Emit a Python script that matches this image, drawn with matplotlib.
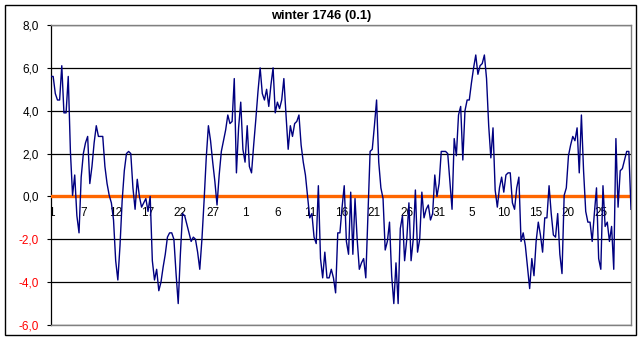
import matplotlib.pyplot as plt
from matplotlib.patches import Rectangle
import numpy as np

plt.rcParams['font.family'] = ['Liberation Sans', 'DejaVu Sans']

title = "winter 1746 (0.1)"

# three readings a day, December .. February
temps = [
    5.6, 5.6, 4.8, 4.5, 4.5, 6.1, 3.9, 3.9, 5.6, 2.1,
    0.05, 1.0, -0.9, -1.7, 0.9, 2.0, 2.5, 2.8, 0.6, 1.4,
    2.5, 3.3, 2.8, 2.8, 2.8, 1.4, 0.6, 0.05, -0.3, -1.1,
    -3.0, -3.9, -2.3, -0.2, 1.2, 2.0, 2.1, 2.0, 0.4, -0.6,
    0.8, 0.0, -0.5, -0.3, -0.1, -0.7, 0.0, -3.0, -3.9, -3.4,
    -4.4, -4.0, -3.3, -2.7, -1.9, -1.7, -1.7, -2.0, -3.6, -5.0,
    -2.7, -0.8, -0.9, -1.3, -1.7, -2.1, -1.9, -2.0, -2.6,
    -3.4, -2.0, -0.2, 1.8, 3.3, 2.6, 1.6, 0.7, -0.4, 1.0,
    2.1, 2.6, 3.1, 3.8, 3.4, 3.5, 5.5, 1.1, 3.2, 4.4,
    2.2, 1.6, 3.3, 1.4, 1.1, 2.4, 3.6, 4.9, 6.0, 4.8,
    4.5, 5.0, 4.2, 5.2, 6.0, 3.9, 4.4, 4.1, 4.5, 5.5,
    3.8, 2.2, 3.3, 2.8, 3.4, 3.5, 3.8, 2.4, 1.6, 1.0,
    0.0, -1.0, -0.8, -1.9, -2.2, 0.5, -2.9, -3.8, -2.6, -3.8,
    -3.8, -3.4, -3.8, -4.5, -1.7, -1.7, -0.5, 0.5, -2.1, -2.7,
    0.2, -2.7, -0.1, -2.0, -3.4, -3.1, -2.9, -3.8, -0.9, 2.1,
    2.2, 3.3, 4.5, 1.6, 0.4, -0.1, -2.5, -2.1, -1.2, -3.7,
    -5.0, -3.1, -5.0, -1.5, -0.9, -3.0, -2.0, -0.3, -3.0, -2.0,
    0.3, -2.6, -2.0, 0.2, -1.0, -0.6, -0.4, -1.1, -0.8, 1.0,
    0.0, 0.6, 2.1, 2.1, 2.1, 2.0, 0.7, -0.6, 2.7, 1.9,
    3.8, 4.2, 1.7, 4.0, 4.5, 4.5, 5.3, 6.0, 6.6, 5.7,
    6.1, 6.2, 6.6, 5.5, 3.3, 1.8, 3.2, 0.3, -0.5, 0.4,
    0.9, 0.2, 1.0, 1.1, 1.1, -0.3, -0.6, 0.4, 0.9, -2.1,
    -1.7, -2.3, -3.3, -4.3, -2.9, -3.7, -2.1, -1.2, -1.8, -2.6,
    -1.0, -1.0, 0.5, -0.8, -1.8, -1.9, -0.8, -2.7, -3.6, 0.05,
    0.4, 1.9, 2.4, 2.8, 2.6, 3.2, 1.1, 3.8, 1.2, -0.7,
    -1.2, -1.2, -2.1, -0.8, 0.4, -2.9, -3.4, 0.5, -1.4, -1.2,
    -2.1, -1.4, -3.4, 2.7, -0.5, 1.2, 1.3, 1.7, 2.1, 2.1, -0.6,
]

day_labels = ["1", "7", "12", "17", "22", "27", "1", "6", "11", "16",
              "21", "26", "31", "5", "10", "15", "20", "25"]
label_every = 15

yticks = [-6, -4, -2, 0, 2, 4, 6, 8]

fig = plt.figure(figsize=(6.43, 3.41), dpi=100)
fig.patches.append(Rectangle((5/643, 6/341), 631/643, 330/341, transform=fig.transFigure,
                             fill=False, ec='black', lw=1.0))
ax = fig.add_axes([51/643, 16/341, 580/643, 300/341])

x = np.arange(len(temps))
ax.plot(x, temps, color='#000080', lw=1.0, zorder=4)
ax.axhline(0, color='#ff6600', lw=2.4, zorder=3)

for i, lab in enumerate(day_labels):
    ax.text(i*label_every, -0.77, lab, ha='center', va='center', fontsize=8.5,
            color='black', zorder=2, clip_on=True)

ax.set_xlim(0, len(temps) - 1)
ax.set_ylim(-6, 8)
ax.set_xticks([])
ax.set_yticks(yticks)
ax.set_yticklabels([f"{v:.1f}".replace('.', ',') for v in yticks])
for t, v in zip(ax.get_yticklabels(), yticks):
    t.set_color('red' if v < 0 else 'black')
ax.tick_params(axis='y', length=3, width=0.8, pad=5.5, labelsize=8.5, direction='out')
ax.yaxis.grid(True, color='black', lw=0.9)
ax.set_axisbelow(True)

for side in ['top', 'right', 'bottom']:
    ax.spines[side].set_color('#808080')
    ax.spines[side].set_linewidth(1.0)
ax.spines['left'].set_color('black')
ax.spines['left'].set_linewidth(0.9)

fig.text(321/643, 1 - 16.5/341, title, ha='center', va='center', fontsize=9.3, fontweight='bold')

fig.savefig('out.png', dpi=100)
